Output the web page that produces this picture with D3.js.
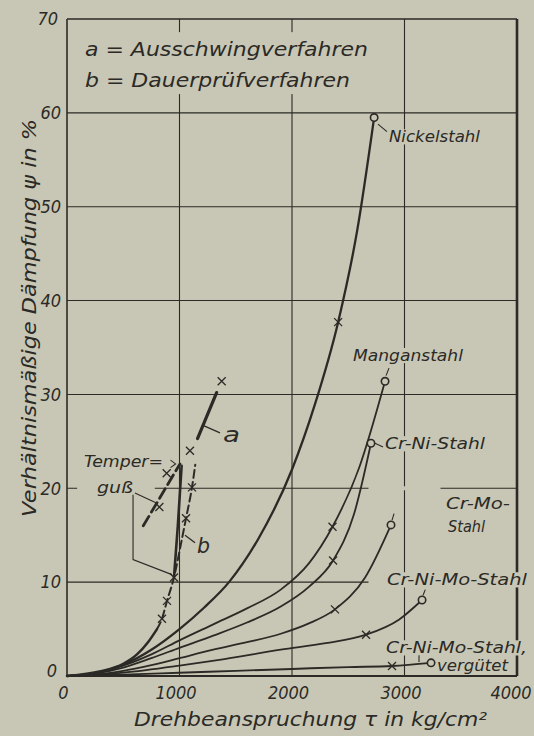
<!DOCTYPE html>
<html>
<head>
<meta charset="utf-8">
<script src="https://cdn.jsdelivr.net/npm/d3@7"></script>
<style>
body { margin: 0; background: #c8c7b5; }
svg { display: block; }
text { font-family: "DejaVu Sans Condensed", "DejaVu Sans", sans-serif; font-style: italic; fill: #2b2a26; }
</style>
</head>
<body>
<svg id="chart" width="534" height="736"></svg>
<script>
// axis ticks
var xTicks = [0, 1000, 2000, 3000, 4000];
var yTicks = [0, 10, 20, 30, 40, 50, 60, 70];

// curves, [tau kg/cm2, psi %]
var nickel  = [[0,0],[250,0.3],[500,1.2],[750,2.8],[1000,5.0],[1220,7.3],[1440,10],[1700,14.6],[2000,22],[2200,28.8],[2410,37.7],[2580,47.5],[2730,59.5]];
var mangan  = [[0,0],[250,0.3],[500,1.1],[750,2.3],[1000,3.8],[1300,5.5],[1600,7.2],[1900,9.2],[2150,12.0],[2360,15.9],[2600,22.3],[2827,31.4]];
var crni    = [[0,0],[250,0.25],[500,0.9],[750,1.9],[1000,3.0],[1300,4.3],[1600,5.7],[1900,7.4],[2150,9.5],[2365,12.3],[2550,17.2],[2702,24.8]];
var crmo    = [[0,0],[250,0.15],[500,0.55],[750,1.15],[1000,1.9],[1300,2.8],[1600,3.6],[1900,4.5],[2150,5.6],[2382,7.1],[2650,10.5],[2880,16.1]];
var crnimo  = [[0,0],[250,0.1],[500,0.35],[1000,1.1],[1400,1.8],[1900,2.8],[2300,3.5],[2658,4.4],[2950,6.0],[3156,8.1]];
var verg    = [[0,0],[500,0.15],[1000,0.35],[1500,0.55],[2000,0.75],[2500,0.95],[2889,1.07],[3236,1.4]];

// Temperguss a / b
var bCurve   = [[0,0],[300,0.5],[500,1.3],[622,2.3],[720,3.6],[800,5.0],[844,6.1],[889,8.0],[951,10.5],[1010,13.9],[1058,16.8],[1111,20.1],[1140,22.5]];
var aSteep   = [[951,10.5],[985,16],[1019,22.4]];
var aUpper   = [[1160,25.3],[1330,30.2]];
var temper   = [[678,16.0],[1004,22.6]];

// end points
var crosses = [[2410,37.7],[2360,15.9],[2365,12.3],[2382,7.1],[2658,4.4],[2889,1.07],
               [844,6.1],[889,8.0],[951,10.5],[1058,16.8],[1111,20.1],[1093,24.0],[1375,31.4],[821,18.0],[886,21.6]];
var circles = [[2730,59.5],[2827,31.4],[2702,24.8],[2880,16.1],[3156,8.1],[3236,1.4]];

var ink = "#2b2a26", paper = "#c8c7b5";
var svg = d3.select("#chart");
var x = d3.scaleLinear().domain([0, 4000]).range([67, 517]);
var y = d3.scaleLinear().domain([0, 70]).range([676, 19]);

svg.append("rect").attr("width", 534).attr("height", 736).attr("fill", paper);

var gGrid = svg.append("g"), gMask = svg.append("g"), gCurve = svg.append("g"),
    gMark = svg.append("g"), gText = svg.append("g");

// grid
gGrid.selectAll(".vg").data(xTicks.slice(1, -1)).enter().append("line")
  .attr("x1", d => x(d)).attr("x2", d => x(d)).attr("y1", y(70)).attr("y2", y(0))
  .attr("stroke", ink).attr("stroke-width", 1.1);
gGrid.selectAll(".hg").data(yTicks.slice(1, -1)).enter().append("line")
  .attr("x1", x(0)).attr("x2", x(4000)).attr("y1", d => y(d)).attr("y2", d => y(d))
  .attr("stroke", ink).attr("stroke-width", 1.1);

// frame
gGrid.append("line").attr("x1", x(0)).attr("x2", x(0)).attr("y1", y(70)).attr("y2", y(0)).attr("stroke", ink).attr("stroke-width", 1.6);
gGrid.append("line").attr("x1", x(0)).attr("x2", x(4000)).attr("y1", y(0)).attr("y2", y(0)).attr("stroke", ink).attr("stroke-width", 2);
gGrid.append("line").attr("x1", x(0)).attr("x2", x(4000)).attr("y1", y(70)).attr("y2", y(70)).attr("stroke", ink).attr("stroke-width", 1.5);
gGrid.append("line").attr("x1", x(4000)).attr("x2", x(4000)).attr("y1", y(70)).attr("y2", y(0)).attr("stroke", ink).attr("stroke-width", 2.6);

// gaps in grid lines
[[90, 780, 20], [2680, 3320, 20], [2680, 3990, 10]].forEach(function(g){
  gMask.append("rect").attr("x", x(g[0])).attr("width", x(g[1]) - x(g[0]))
    .attr("y", y(g[2]) - 2).attr("height", 4).attr("fill", paper);
});
[[1000, 62, 68.6], [2000, 62, 68.6]].forEach(function(g){
  gMask.append("rect").attr("x", x(g[0]) - 2).attr("width", 4)
    .attr("y", y(g[2])).attr("height", y(g[1]) - y(g[2])).attr("fill", paper);
});

// curves
var line = d3.line().x(d => x(d[0])).y(d => y(d[1])).curve(d3.curveMonotoneX);
function curve(data, w, dash) {
  var p = gCurve.append("path").attr("d", line(data)).attr("fill", "none")
    .attr("stroke", ink).attr("stroke-width", w).attr("stroke-linecap", "round");
  if (dash) p.attr("stroke-dasharray", dash);
}
curve(nickel, 2.3);
curve(mangan, 1.8);
curve(crni, 1.8);
curve(crmo, 1.8);
curve(crnimo, 1.8);
curve(verg, 1.9);
curve(bCurve.filter(d => d[0] <= 800), 2.5);
curve(bCurve.filter(d => d[0] >= 800), 2.0, "8,4");
curve(aSteep, 2.6);
curve(aUpper, 3.2);
curve(temper, 2.8, "11,5");

// markers
gMark.selectAll(".cr").data(crosses).enter().append("path")
  .attr("d", d => { var cx = x(d[0]), cy = y(d[1]), s = 4;
    return "M" + (cx - s) + "," + (cy - s) + "L" + (cx + s) + "," + (cy + s) + "M" + (cx - s) + "," + (cy + s) + "L" + (cx + s) + "," + (cy - s); })
  .attr("stroke", ink).attr("stroke-width", 1.3).attr("fill", "none");
gMark.selectAll(".ci").data(circles).enter().append("circle")
  .attr("cx", d => x(d[0])).attr("cy", d => y(d[1])).attr("r", 3.7)
  .attr("fill", paper).attr("stroke", ink).attr("stroke-width", 1.6);

// leaders
function leader(pts, w) {
  gMark.append("path").attr("d", d3.line().x(d => x(d[0])).y(d => y(d[1]))(pts))
    .attr("fill", "none").attr("stroke", ink).attr("stroke-width", w || 1.1);
}
leader([[2764, 58.8], [2844, 58.0]]);
leader([[2836, 32.0], [2862, 32.8]]);
leader([[2738, 24.8], [2809, 24.4]]);
leader([[2889, 16.6], [2907, 17.3]]);
leader([[3165, 8.6], [3185, 9.2]]);
leader([[3129, 2.2], [3129, 1.5]]);
leader([[604, 19.5], [800, 18.4]]);
leader([[587, 19.3], [587, 12.4], [933, 10.8]]);
leader([[920, 23.0], [965, 22.6], [920, 22.2]]);
leader([[1209, 26.7], [1360, 25.9]], 1.3);
leader([[1049, 15.0], [1138, 14.2]], 1.3);

// texts
function label(txt, tx, ty, size, len, mask) {
  var t = gText.append("text").attr("x", x(tx)).attr("y", y(ty)).attr("font-size", size).text(txt);
  if (len) t.attr("textLength", len).attr("lengthAdjust", "spacingAndGlyphs");
  if (mask) {
    var b = t.node().getBBox();
    gMask.append("rect").attr("x", b.x - 2).attr("y", b.y + b.height * 0.12)
      .attr("width", b.width + 4).attr("height", b.height * 0.8).attr("fill", paper);
  }
  return t;
}
label("a = Ausschwingverfahren", 160, 66.1, 19, 283);
label("b = Dauerprüfverfahren", 160, 62.8, 19, 265);
label("Nickelstahl", 2862, 56.9, 16, 91, true);
label("Manganstahl", 2542, 33.6, 16, 110, true);
label("Cr-Ni-Stahl", 2827, 24.2, 16, 100, true);
label("Cr-Mo-", 3369, 17.8, 16, 64, true);
label("Stahl", 3387, 15.3, 16, 37, true);
label("Cr-Ni-Mo-Stahl", 2844, 9.7, 16, 140, true);
label("Cr-Ni-Mo-Stahl,", 2836, 2.45, 16, 141, true);
label("vergütet", 3289, 0.53, 16, 71, true);
label("Temper=", 151, 22.3, 16, 79, true);
label("guß", 267, 19.5, 16, 36, true);
label("a", 1387, 24.9, 21, 17);
label("b", 1156, 13.1, 21, 13);

// tick labels
gText.selectAll(".xt").data(xTicks).enter().append("text")
  .attr("x", (d, i) => x(d) + (i === xTicks.length - 1 ? -6 : -3.5)).attr("y", 699)
  .attr("text-anchor", "middle").attr("font-size", 18).text(d => d);
gText.selectAll(".yt").data(yTicks).enter().append("text")
  .attr("x", d => d === 0 ? 57 : (d === 70 ? 58 : 61)).attr("y", d => y(d) + (d === 0 ? -5 : 0)).attr("dy", "0.35em")
  .attr("text-anchor", "end").attr("font-size", 18).text(d => d);

// axis titles
gText.append("text").attr("x", 134).attr("y", 726).attr("font-size", 19)
  .attr("textLength", 353).attr("lengthAdjust", "spacingAndGlyphs")
  .text("Drehbeanspruchung τ in kg/cm²");
gText.append("text").attr("transform", "translate(36,318) rotate(-90)").attr("text-anchor", "middle")
  .attr("font-size", 19).attr("textLength", 398).attr("lengthAdjust", "spacingAndGlyphs")
  .text("Verhältnismäßige Dämpfung ψ in %");
</script>
</body>
</html>
